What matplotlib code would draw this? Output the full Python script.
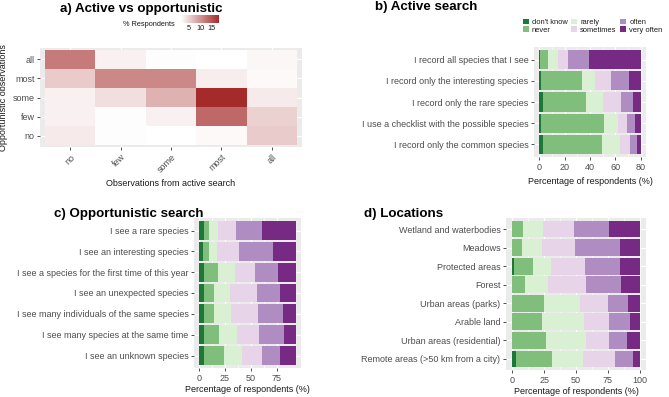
import numpy as np
import matplotlib
matplotlib.use("Agg")
import matplotlib.pyplot as plt
from matplotlib.colors import LinearSegmentedColormap
from matplotlib.patches import Patch

plt.rcParams['font.family'] = ['Liberation Sans', 'DejaVu Sans']

# ---- data ----
levels = ["no", "few", "some", "most", "all"]
# rows: opportunistic (no..all), cols: active (no..all)
heat = np.array([
    [3.0, 1.5, 1.3, 1.8, 5.5],    # no
    [2.5, 1.5, 2.5, 13.5, 5.0],   # few
    [2.5, 4.0, 7.5, 18.5, 3.0],   # some
    [5.5, 11.0, 11.0, 2.8, 1.8],  # most
    [12.0, 2.5, 1.5, 1.3, 2.0],   # all
])

answers = ["don't know", "never", "rarely", "sometimes", "often", "very often"]
colors = ["#1b7837", "#7fbf7b", "#d9f0d3", "#e7d4e8", "#af8dc3", "#762a83"]

active_items = [
    "I record only the common species",
    "I use a checklist with the possible species",
    "I record only the rare species",
    "I record only the interesting species",
    "I record all species that I see",
]
active_vals = np.array([
    [3.3, 46.0, 13.9, 8.5, 5.1, 3.1],
    [1.5, 49.4, 11.3, 6.9, 5.9, 4.9],
    [2.8, 33.7, 13.4, 14.4, 9.3, 6.4],
    [1.8, 32.1, 10.0, 12.6, 14.4, 9.0],
    [0.8, 6.2, 7.7, 8.2, 16.5, 40.6],
])

opp_items = [
    "I see an unknown species",
    "I see many species at the same time",
    "I see many individuals of the same species",
    "I see an unexpected species",
    "I see a species for the first time of this year",
    "I see an interesting species",
    "I see a rare species",
]
opp_vals = np.array([
    [5.0, 19.1, 17.3, 19.5, 16.9, 15.7],
    [5.0, 14.4, 16.9, 22.0, 23.8, 11.3],
    [5.3, 9.1, 16.3, 26.0, 23.8, 12.9],
    [5.3, 9.1, 15.4, 25.7, 22.9, 15.1],
    [5.3, 13.5, 15.7, 19.5, 22.0, 17.6],
    [4.1, 6.0, 7.2, 21.3, 32.3, 22.6],
    [4.7, 4.7, 9.4, 16.6, 25.1, 32.9],
])

loc_items = [
    "Remote areas (>50 km from a city)",
    "Urban areas (residential)",
    "Arable land",
    "Urban areas (parks)",
    "Forest",
    "Protected areas",
    "Meadows",
    "Wetland and waterbodies",
]
loc_vals = np.array([
    [2.6, 28.6, 24.0, 25.1, 14.8, 4.9],
    [0.0, 26.3, 31.7, 18.2, 13.8, 10.0],
    [0.0, 23.3, 32.7, 20.2, 16.6, 7.2],
    [0.0, 24.8, 28.4, 21.7, 15.6, 9.5],
    [0.0, 10.0, 18.2, 29.9, 27.4, 14.5],
    [1.5, 14.6, 14.3, 26.3, 27.6, 15.7],
    [0.0, 7.2, 16.1, 25.6, 35.5, 15.6],
    [0.0, 8.7, 15.6, 24.0, 27.4, 24.3],
])

BG = "#EBEBEB"
TXT = "#4D4D4D"
TICK_FS = 6.5
LAB_FS = 6.45
TITLE_FS = 9.6

fig = plt.figure(figsize=(6.69, 3.97), dpi=100)


def px_axes(x0, y0, x1, y1):
    return fig.add_axes([x0 / 669, 1 - y1 / 397, (x1 - x0) / 669, (y1 - y0) / 397])


def style(ax):
    ax.set_facecolor(BG)
    for s in ax.spines.values():
        s.set_visible(False)
    ax.tick_params(colors="#333333", labelcolor=TXT, labelsize=TICK_FS, length=2.5,
                   width=0.6, pad=1.5)
    ax.set_axisbelow(True)


def stacked(ax, items, vals, ticks, lpad=2):
    style(ax)
    n = len(items)
    y = np.arange(n)
    left = np.zeros(n)
    for j in range(len(answers)):
        ax.barh(y, vals[:, j], left=left, height=0.9, color=colors[j], linewidth=0)
        left += vals[:, j]
    mx = left.max()
    ax.set_xlim(-0.05 * mx, 1.05 * mx)
    ax.set_ylim(-0.6, n - 0.4)
    ax.set_yticks(y)
    ax.set_yticklabels(items)
    ax.set_xticks(ticks)
    minor = [(a + b) / 2 for a, b in zip(ticks[:-1], ticks[1:])]
    ax.set_xticks(minor, minor=True)
    ax.tick_params(axis="x", which="minor", length=0)
    ax.grid(True, which="major", color="white", linewidth=0.9)
    ax.grid(True, which="minor", axis="x", color="white", linewidth=0.45)
    ax.set_xlabel("Percentage of respondents (%)", fontsize=LAB_FS, color="#1a1a1a",
                  labelpad=lpad)


# ---- a) heatmap ----
ax = px_axes(40, 48, 302, 147)
style(ax)
cmap = LinearSegmentedColormap.from_list("wb", ["#FFFFFF", "#A52A2A"])
edges = np.arange(6) - 0.5
mesh = ax.pcolormesh(edges, edges, heat, cmap=cmap, vmin=heat.min(), vmax=heat.max())
ax.set_xlim(-0.6, 4.6)
ax.set_ylim(-0.6, 4.6)
ax.set_xticks(range(5))
ax.set_xticklabels(levels, rotation=45, ha="right", va="top", rotation_mode="anchor")
ax.set_yticks(range(5))
ax.set_yticklabels(levels)
ax.grid(True, color="white", linewidth=0.9)
ax.set_xlabel("Observations from active search", fontsize=LAB_FS, color="#1a1a1a",
              labelpad=3)
ax.set_ylabel("Opportunistic observations", fontsize=LAB_FS, color="#1a1a1a", labelpad=3)
fig.text(60 / 669, 1 - 9 / 397, "a) Active vs opportunistic", fontsize=TITLE_FS,
         fontweight="bold", va="center")

cax = px_axes(181, 15, 219, 23)
cb = fig.colorbar(mesh, cax=cax, orientation="horizontal", ticks=[5, 10, 15])
cb.outline.set_visible(False)
cax.tick_params(labelsize=5.3, length=0, pad=1.5, colors=TXT, labelcolor="#1a1a1a")
fig.text(175 / 669, 1 - 25 / 397, "% Respondents", fontsize=5.3, ha="right", va="center",
         color="#1a1a1a")

# ---- b) active search ----
ax = px_axes(534, 47, 646, 157)
stacked(ax, active_items, active_vals, [0, 20, 40, 60, 80], lpad=4)
fig.text(375 / 669, 1 - 7 / 397, "b) Active search", fontsize=TITLE_FS, fontweight="bold",
         va="center")
handles = [Patch(facecolor=c, edgecolor="none") for c in colors]
fig.legend(handles, answers, ncol=3, loc="upper left", bbox_to_anchor=(519 / 669, 1 - 15 / 397),
           frameon=False, fontsize=5.4, handlelength=0.8, handleheight=0.8,
           handletextpad=0.4, columnspacing=0.5, labelspacing=0.0, borderpad=0,
           labelcolor="#1a1a1a")

# ---- c) opportunistic search ----
ax = px_axes(194, 218, 301, 368)
stacked(ax, opp_items, opp_vals, [0, 25, 50, 75])
fig.text(54 / 669, 1 - 214 / 397, "c) Opportunistic search", fontsize=TITLE_FS,
         fontweight="bold", va="center")

# ---- d) locations ----
ax = px_axes(506, 218, 646, 370)
stacked(ax, loc_items, loc_vals, [0, 25, 50, 75, 100])
fig.text(364 / 669, 1 - 214 / 397, "d) Locations", fontsize=TITLE_FS, fontweight="bold",
         va="center")

fig.savefig("out.png", dpi=100)
